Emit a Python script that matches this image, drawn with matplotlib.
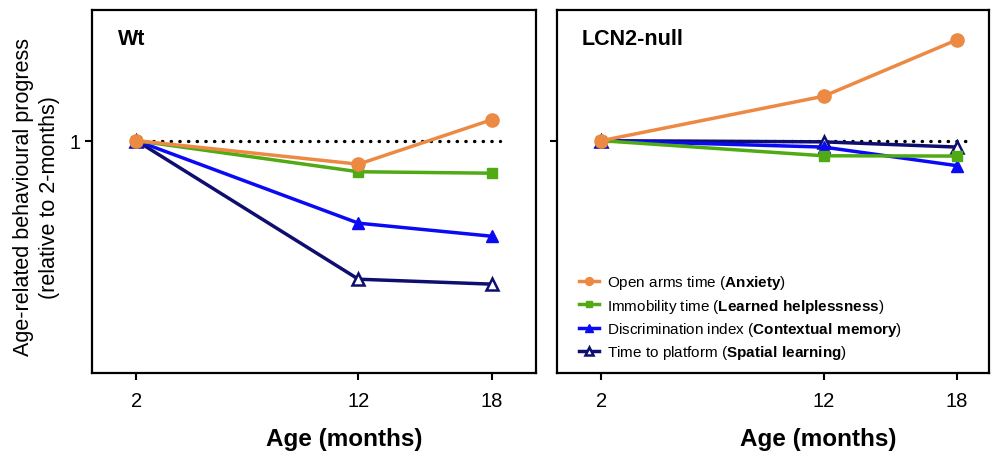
import matplotlib
matplotlib.use("Agg")
import matplotlib.pyplot as plt

plt.rcParams['font.family'] = ['Liberation Sans', 'DejaVu Sans']
plt.rcParams['mathtext.fontset'] = 'custom'
plt.rcParams['mathtext.rm'] = 'Liberation Sans'
plt.rcParams['mathtext.bf'] = 'Liberation Sans:bold'

# ages (months)
ages = [2, 12, 18]
age_ticks = ['2', '12', '18']

# behavioural progress relative to 2 months (Wt)
wt_anxiety = [1.0, 0.919, 1.072]
wt_helpless = [1.0, 0.893, 0.888]
wt_context = [1.0, 0.716, 0.671]
wt_spatial = [1.0, 0.523, 0.506]

# LCN2-null
ko_anxiety = [1.0, 1.153, 1.347]
ko_helpless = [1.0, 0.948, 0.947]
ko_context = [1.0, 0.978, 0.914]
ko_spatial = [1.0, 0.996, 0.978]

ref_level = 1.0

labels = [
    r'Open arms time ($\bf{Anxiety}$)',
    r'Immobility time ($\bf{Learned\ helplessness}$)',
    r'Discrimination index ($\bf{Contextual\ memory}$)',
    r'Time to platform ($\bf{Spatial\ learning}$)',
]

styles = [
    dict(color='#EC8943', marker='o', markersize=9.5, mfc='#EC8943', mec='#EC8943'),
    dict(color='#4FAA14', marker='s', markersize=7.5, mfc='#4FAA14', mec='#4FAA14'),
    dict(color='#0A0AF5', marker='^', markersize=9, mfc='#0A0AF5', mec='#0A0AF5'),
    dict(color='#0E0E70', marker='^', markersize=9, mfc='white', mec='#0E0E70', mew=1.8),
]


def draw_panel(ax, series, title, xmax, show_ylabel):
    # dotted reference line at the 2-month level
    ax.plot([ages[0], ages[-1] + 0.4], [ref_level, ref_level], color='black',
            linestyle=(0, (0.1, 2.5)), dash_capstyle='round', linewidth=2.4, zorder=1)
    for i, (vals, lab, st) in enumerate(zip(series, labels, styles)):
        ax.plot(ages, vals, linewidth=2.5, label=lab, zorder=6 - i, clip_on=False, **st)
    ax.set_xlim(0, xmax)
    ax.set_ylim(0.2, 1.45)
    ax.set_xticks(ages)
    ax.set_xticklabels(age_ticks)
    ax.set_yticks([ref_level])
    ax.set_yticklabels(['1'] if show_ylabel else [''])
    ax.tick_params(axis='both', direction='out', length=5, width=1.5, labelsize=14.5)
    ax.tick_params(axis='x', pad=8)
    ax.tick_params(axis='y', pad=3)
    for sp in ax.spines.values():
        sp.set_linewidth(1.6)
    ax.text(0.058, 0.905, title, transform=ax.transAxes, fontsize=15.5,
            fontweight='bold', va='baseline', ha='left')


fig = plt.figure(figsize=(9.91, 4.52), dpi=100)
ax1 = fig.add_axes([92 / 991, 1 - 374 / 452, 444 / 991, 363 / 452])
ax2 = fig.add_axes([557 / 991, 1 - 374 / 452, 432 / 991, 363 / 452])

draw_panel(ax1, [wt_anxiety, wt_helpless, wt_context, wt_spatial], 'Wt', 20, True)
draw_panel(ax2, [ko_anxiety, ko_helpless, ko_context, ko_spatial], 'LCN2-null', 19.45, False)

ax1.set_xlabel('Age (months)', fontsize=17.5, fontweight='bold')
ax1.xaxis.set_label_coords(0.568, -0.148)
ax2.set_xlabel('Age (months)', fontsize=17.5, fontweight='bold')
ax2.xaxis.set_label_coords(0.605, -0.148)

fig.text(36.5 / 991, 1 - 197.5 / 452,
         'Age-related behavioural progress\n(relative to 2-months)',
         rotation=90, ha='center', va='center', multialignment='center',
         fontsize=15.5, linespacing=1.3)

ax2.legend(loc='upper left', bbox_to_anchor=(0.05, 0.275), frameon=False,
           fontsize=11, handlelength=1.35, handletextpad=0.5, labelspacing=0.35,
           borderpad=0, borderaxespad=0, markerscale=0.6)

fig.savefig('out.png', dpi=100)
